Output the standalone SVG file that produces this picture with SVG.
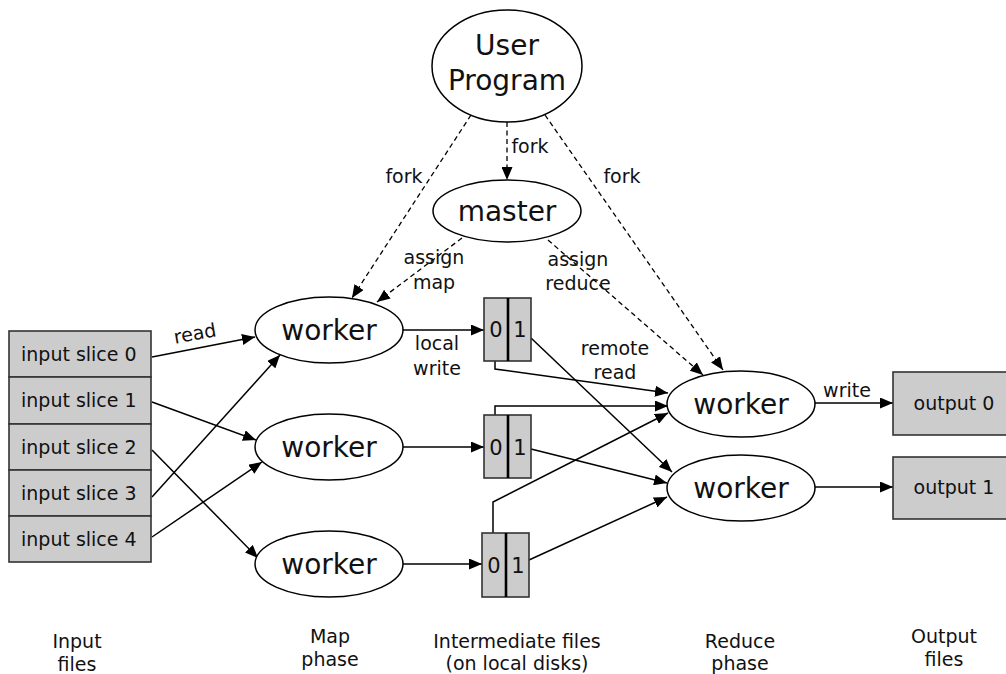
<svg xmlns="http://www.w3.org/2000/svg" width="1006" height="674" viewBox="0 0 1006 674">
<style>
text{font-family:"DejaVu Sans","Liberation Sans",sans-serif;fill:#111}
.big{font-size:28px;text-anchor:middle}
.lbl{font-size:19px;text-anchor:middle}
.dig{font-size:21px;text-anchor:middle}
.slice{font-size:19px}
.ell{fill:#fff;stroke:#000;stroke-width:1.5}
.box{fill:#cccccc;stroke:#333;stroke-width:1.6}
.div{stroke:#000;stroke-width:2.6}
.c{fill:none;stroke:#000;stroke-width:1.5;marker-end:url(#ah)}
.d{stroke-dasharray:5 3.5;stroke-width:1.3}
.cap{font-size:19px;text-anchor:middle}
</style>
<defs>
<marker id="ah" viewBox="0 0 13 11" refX="13" refY="5.5" markerWidth="13" markerHeight="11" markerUnits="userSpaceOnUse" orient="auto">
<path d="M0,0 L13,5.5 L0,11 z" fill="#000"/>
</marker>
</defs>
<rect width="1006" height="674" fill="#fff"/>

<g id="connectors">
<path class="c d" d="M507,122 L507,180"/>
<path class="c d" d="M471,115 L352,298"/>
<path class="c d" d="M545,115 L723,370"/>
<path class="c d" d="M462,238 L377,302"/>
<path class="c d" d="M548,240 L703,375"/>
<path class="c" d="M152,357 L255,337"/>
<path class="c" d="M152,402 L256,440"/>
<path class="c" d="M152,450 L258,558"/>
<path class="c" d="M152,497 L280,355"/>
<path class="c" d="M152,537 L262,462"/>
<path class="c" d="M403,330 L484,330"/>
<path class="c" d="M403,447 L484,447"/>
<path class="c" d="M403,564 L482,564"/>
<path class="c" d="M495,361 L495,369 L668,393"/>
<path class="c" d="M495,415 L495,406 L668,406"/>
<path class="c" d="M493,533 L493,502 L668,413"/>
<path class="c" d="M531,338 L672,472"/>
<path class="c" d="M531,449 L667,483"/>
<path class="c" d="M529,560 L667,497"/>
<path class="c" d="M815,403 L893,403"/>
<path class="c" d="M815,487 L893,487"/>
<text class="lbl" x="404" y="183">fork</text>
<text class="lbl" x="530" y="153">fork</text>
<text class="lbl" x="622" y="183">fork</text>
<text class="lbl" x="434" y="264">assign</text>
<text class="lbl" x="434" y="289">map</text>
<text class="lbl" x="578" y="266">assign</text>
<text class="lbl" x="578" y="290">reduce</text>
<text class="lbl" x="195" y="340" transform="rotate(-10 195 334)">read</text>
<text class="lbl" x="437" y="350">local</text>
<text class="lbl" x="437" y="375">write</text>
<text class="lbl" x="615" y="355">remote</text>
<text class="lbl" x="615" y="379">read</text>
<text class="lbl" x="847" y="397">write</text>
</g>

<g id="user-program">
<ellipse class="ell" cx="507" cy="66" rx="75" ry="56"/>
<text class="big" x="507" y="55">User</text>
<text class="big" x="507" y="90">Program</text>
</g>

<g id="master">
<ellipse class="ell" cx="507" cy="211" rx="74" ry="31"/>
<text class="big" x="507" y="221">master</text>
</g>

<g id="input-files">
<rect class="box" x="9" y="331" width="142" height="46"/>
<rect class="box" x="9" y="377" width="142" height="47"/>
<rect class="box" x="9" y="424" width="142" height="46"/>
<rect class="box" x="9" y="470" width="142" height="46"/>
<rect class="box" x="9" y="516" width="142" height="46"/>
<text class="slice" x="21" y="361">input slice 0</text>
<text class="slice" x="21" y="407">input slice 1</text>
<text class="slice" x="21" y="454">input slice 2</text>
<text class="slice" x="21" y="500">input slice 3</text>
<text class="slice" x="21" y="546">input slice 4</text>
</g>

<g id="map-worker-0">
<ellipse class="ell" cx="329" cy="330" rx="74" ry="33"/>
<text class="big" x="329" y="340">worker</text>
</g>
<g id="map-worker-1">
<ellipse class="ell" cx="329" cy="447" rx="74" ry="33"/>
<text class="big" x="329" y="457">worker</text>
</g>
<g id="map-worker-2">
<ellipse class="ell" cx="329" cy="564" rx="74" ry="33"/>
<text class="big" x="329" y="574">worker</text>
</g>

<g id="intermediate-0">
<rect class="box" x="484" y="298" width="47" height="63"/>
<line class="div" x1="508" y1="298" x2="508" y2="361"/>
<text class="dig" x="496" y="337">0</text>
<text class="dig" x="520" y="337">1</text>
</g>
<g id="intermediate-1">
<rect class="box" x="484" y="415" width="47" height="63"/>
<line class="div" x1="508" y1="415" x2="508" y2="478"/>
<text class="dig" x="496" y="455">0</text>
<text class="dig" x="520" y="455">1</text>
</g>
<g id="intermediate-2">
<rect class="box" x="482" y="533" width="47" height="64"/>
<line class="div" x1="506" y1="533" x2="506" y2="597"/>
<text class="dig" x="494" y="573">0</text>
<text class="dig" x="518" y="573">1</text>
</g>

<g id="reduce-worker-0">
<ellipse class="ell" cx="741" cy="404" rx="74" ry="33"/>
<text class="big" x="741" y="414">worker</text>
</g>
<g id="reduce-worker-1">
<ellipse class="ell" cx="741" cy="488" rx="74" ry="33"/>
<text class="big" x="741" y="498">worker</text>
</g>

<g id="output-0">
<rect class="box" x="893" y="372" width="120" height="63"/>
<text class="lbl" x="954" y="410">output 0</text>
</g>
<g id="output-1">
<rect class="box" x="893" y="457" width="120" height="62"/>
<text class="lbl" x="954" y="494">output 1</text>
</g>

<g id="captions">
<text class="cap" x="77" y="648">Input</text>
<text class="cap" x="77" y="671">files</text>
<text class="cap" x="330" y="643">Map</text>
<text class="cap" x="330" y="666">phase</text>
<text class="cap" x="517" y="648">Intermediate files</text>
<text class="cap" x="517" y="670">(on local disks)</text>
<text class="cap" x="740" y="648">Reduce</text>
<text class="cap" x="740" y="670">phase</text>
<text class="cap" x="944" y="643">Output</text>
<text class="cap" x="944" y="666">files</text>
</g>
</svg>
